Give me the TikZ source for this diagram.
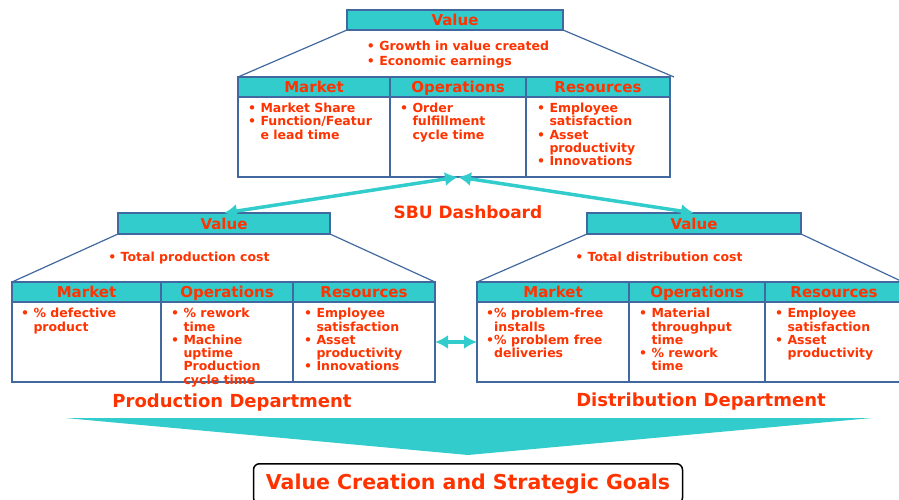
\documentclass[tikz,border=0pt]{standalone}
\usepackage{fontspec}
\setmainfont{DejaVu Sans}
\usetikzlibrary{positioning, arrows.meta}
\definecolor{tealbar}{RGB}{51,204,204}
\definecolor{redtext}{RGB}{255,51,0}
\definecolor{frameblue}{RGB}{65,105,160}
\newcommand{\bulind}{\phantom{•\ }}
\newcommand{\bulindb}{\phantom{•}}
\tikzstyle{valbox} = [draw=frameblue, line width=1.2pt, rectangle, fill=tealbar, outer sep=0pt, inner sep=0pt, minimum height=20pt, text height=12pt, text depth=1pt, text=redtext, font=\fontsize{15}{15}\selectfont\bfseries]
\tikzstyle{cell} = [draw=frameblue, line width=1.2pt, rectangle, fill=white, outer sep=0pt, inner sep=0pt, minimum height=80pt]
\tikzstyle{txt} = [align=left, inner sep=0pt, text=redtext, font=\fontsize{12.5}{13.3}\selectfont\bfseries]
\tikzstyle{side} = [draw=frameblue, line width=1.2pt]
\tikzstyle{link} = [draw=tealbar, line width=3.5pt, >={Latex[length=13pt,width=14pt]}, <->]
\tikzstyle{title} = [inner sep=0pt, text=redtext, font=\fontsize{18}{18}\selectfont\bfseries]

\begin{document}
\begin{tikzpicture}[x=1pt, y=-1pt]
	\useasboundingbox (0,0) rectangle (899,500);

	% SBU dashboard
	\node [valbox, minimum width=216pt] (tval) at (455,20) {Value};
	\node [txt, font=\fontsize{12.5}{14.8}\selectfont\bfseries, below=11pt of tval, xshift=3pt] (tgoal) {• Growth in value created\\• Economic earnings};
	\node [valbox, minimum width=152pt, anchor=north west] (tmkt) at (238,77) {Market};
	\node [valbox, minimum width=136pt, right=0pt of tmkt] (tops) {Operations};
	\node [valbox, minimum width=144pt, right=0pt of tops] (tres) {Resources};
	\node [cell, minimum width=152pt, below=0pt of tmkt] (tmktb) {};
	\node [cell, minimum width=136pt, below=0pt of tops] (topsb) {};
	\node [cell, minimum width=144pt, below=0pt of tres] (tresb) {};
	\node [txt, below right=6pt and 10pt of tmktb.north west] (tmktx) {• Market Share\\• Function/Featur\\\bulind e lead time};
	\node [txt, below right=6pt and 10pt of topsb.north west] (topsx) {• Order\\\bulind fulfillment\\\bulind cycle time};
	\node [txt, below right=6pt and 11pt of tresb.north west] (tresx) {• Employee\\\bulind satisfaction\\• Asset\\\bulind productivity\\• Innovations};
	\path [side] (tval.south west) -- (tmkt.north west);
	\path [side] (tval.south east) -- ([xshift=4pt]tres.north east);

	% production department
	\node [valbox, minimum width=212pt, minimum height=21pt] (lval) at (224,223.5) {Value};
	\node [txt, below=18pt of lval, xshift=-35pt] (lgoal) {• Total production cost};
	\node [valbox, minimum width=149pt, anchor=north west] (lmkt) at (12,282) {Market};
	\node [valbox, minimum width=132pt, right=0pt of lmkt] (lops) {Operations};
	\node [valbox, minimum width=142pt, right=0pt of lops] (lres) {Resources};
	\node [cell, minimum width=149pt, below=0pt of lmkt] (lmktb) {};
	\node [cell, minimum width=132pt, below=0pt of lops] (lopsb) {};
	\node [cell, minimum width=142pt, below=0pt of lres] (lresb) {};
	\node [txt, below right=6pt and 9pt of lmktb.north west] (lmktx) {• \% defective\\\bulind product};
	\node [txt, below right=6pt and 10pt of lopsb.north west] (lopsx) {• \% rework\\\bulind time\\• Machine\\\bulind uptime\\\bulind Production\\\bulind cycle time};
	\node [txt, below right=6pt and 11pt of lresb.north west] (lresx) {• Employee\\\bulind satisfaction\\• Asset\\\bulind productivity\\• Innovations};
	\path [side] (lval.south west) -- (lmkt.north west);
	\path [side] (lval.south east) -- (lres.north east);
	\node [title] (ltitle) at (232,403) {Production Department};

	% distribution department
	\node [valbox, minimum width=214pt, minimum height=21pt] (rval) at (694,223.5) {Value};
	\node [txt, below=18pt of rval, xshift=-35pt] (rgoal) {• Total distribution cost};
	\node [valbox, minimum width=152pt, anchor=north west] (rmkt) at (477,282) {Market};
	\node [valbox, minimum width=136pt, right=0pt of rmkt] (rops) {Operations};
	\node [valbox, minimum width=138pt, right=0pt of rops] (rres) {Resources};
	\node [cell, minimum width=152pt, below=0pt of rmkt] (rmktb) {};
	\node [cell, minimum width=136pt, below=0pt of rops] (ropsb) {};
	\node [cell, minimum width=138pt, below=0pt of rres] (rresb) {};
	\node [txt, below right=6pt and 9pt of rmktb.north west] (rmktx) {•\% problem-free\\\bulindb installs\\•\% problem free\\\bulindb deliveries};
	\node [txt, below right=6pt and 10pt of ropsb.north west] (ropsx) {• Material\\\bulind throughput\\\bulind time\\• \% rework\\\bulind time};
	\node [txt, below right=6pt and 10pt of rresb.north west] (rresx) {• Employee\\\bulind satisfaction\\• Asset\\\bulind productivity};
	\path [side] (rval.south west) -- (rmkt.north west);
	\path [side] (rval.south east) -- (rres.north east);
	\node [title] (rtitle) at (701,402) {Distribution Department};

	% links
	\node [title, font=\fontsize{17}{17}\selectfont\bfseries] (sbu) at (468,212) {SBU Dashboard};
	\path [link] (topsb.south) -- (lval.north);
	\path [link] (topsb.south) -- (rval.north);
	\path [link] (lresb.east) -- (rmktb.west);

	% result
	\coordinate (tip) at (468,455);
	\fill [tealbar] (65,418) -- (872,418) -- (tip) -- cycle;
	\node [draw=black, line width=1.5pt, rounded corners=6pt, minimum width=429pt, minimum height=40pt, text=redtext, font=\fontsize{20.5}{20.5}\selectfont\bfseries, below=8pt of tip] (goals) {Value Creation and Strategic Goals};
\end{tikzpicture}
\end{document}
